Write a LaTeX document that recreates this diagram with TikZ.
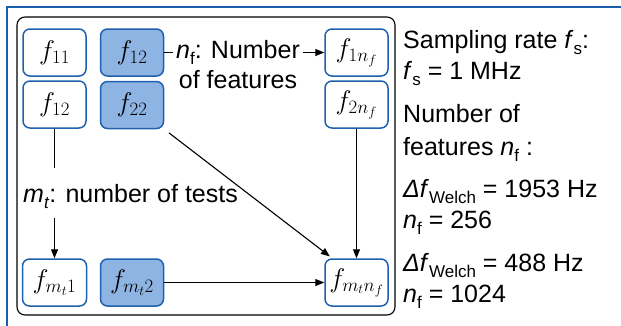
\RequirePackage{fix-cm}
\documentclass[tikz,border=0pt]{standalone}
\usepackage{fontspec}
\setmainfont{Liberation Sans}
\usetikzlibrary{arrows.meta,calc}

\definecolor{edgeblue}{HTML}{2060AE}
\definecolor{cellfill}{HTML}{8DB4E2}
\definecolor{frameblue}{HTML}{1A5EAB}

% lowered small subscript for text labels
\newcommand\lowsub[1]{\raisebox{-0.25em}{\fontsize{17}{17}\selectfont #1}}

\begin{document}
\begin{tikzpicture}[x=1pt,y=-1pt,
  cell/.style={draw=edgeblue, line width=1.5pt, rounded corners=7pt,
    minimum width=63pt, minimum height=47pt, inner sep=0pt, fill=white,
    font=\fontsize{27}{30}\selectfont},
  hot/.style={cell, fill=cellfill},
  link/.style={line width=1.1pt},
  arr/.style={link, -{Triangle[length=9pt,width=7pt]}},
  txt/.style={font=\fontsize{25}{30}\selectfont, inner sep=0pt},
  side/.style={txt, anchor=base west}]

\useasboundingbox (0,0) rectangle (621,325);

% outer frame (top and left edges)
\draw[frameblue, line width=2.2pt] (7,330) -- (7,7) -- (630,7);

% inner frame
\draw[line width=1.1pt, rounded corners=8pt] (17,17) rectangle (395,315);

% feature cells
\node[cell] (f11)   at (54.5,52.5)  {$f_{11}$};
\node[cell] (f12b)  at (54.5,104.5) {$f_{12}$};
\node[hot]  (f12a)  at (132,52.5)   {$f_{12}$};
\node[hot]  (f22)   at (132,105)    {$f_{22}$};
\node[cell] (f1nf)  at (356.5,52.5) {$f_{1n_f}$};
\node[cell] (f2nf)  at (356.5,104.5){$f_{2n_f}$};
\node[cell, minimum width=64pt] (fmt1) at (54.5,282.5) {$f_{m_t1}$};
\node[hot]  (fmt2)  at (132,282.5)  {$f_{m_t2}$};
\node[cell] (fmtnf) at (356.5,282.5){$f_{m_tn_f}$};

% feature count label
\node[txt, anchor=base, inner xsep=3pt] (numf) at (238,58) {\textit{n}\lowsub{f}: Number};
\node[txt, anchor=base] (offeat) at (238,88) {of features};
\draw[link] (f12a.east) -- (f12a.east -| numf.west);
\draw[arr] (numf.east |- f1nf.west) -- (f1nf.west);

% test count label
\node[txt, anchor=base west] (mt) at (23,202) {\textit{m}\lowsub{\textit{t}}: number of tests};
\coordinate (mthigh) at (54.5,168);
\coordinate (mtlow) at (54.5,218);
\draw[link] (f12b) -- (mthigh);
\draw[arr] (mtlow) -- (fmt1);

% remaining connectors
\draw[arr, shorten <=6pt, shorten >=3pt] (f22.south east) -- ($(fmtnf.north west)+(8,0)$);
\draw[arr] (f2nf) -- (fmtnf);
\draw[arr] (fmt2) -- (fmtnf);

% side notes
\node[side] (s1) at (403,48)  {Sampling rate \textit{f}\lowsub{s}:};
\node[side] (s2) at (403,79)  {\textit{f}\lowsub{s} = 1 MHz};
\node[side] (s3) at (403,122) {Number of};
\node[side] (s4) at (403,155) {features \textit{n}\lowsub{f} :};
\node[side] (s5) at (403,197) {\textit{Δf}\lowsub{Welch} = 1953 Hz};
\node[side] (s6) at (403,228) {\textit{n}\lowsub{f} = 256};
\node[side] (s7) at (403,271) {\textit{Δf}\lowsub{Welch} = 488 Hz};
\node[side] (s8) at (403,302) {\textit{n}\lowsub{f} = 1024};
\end{tikzpicture}
\end{document}
